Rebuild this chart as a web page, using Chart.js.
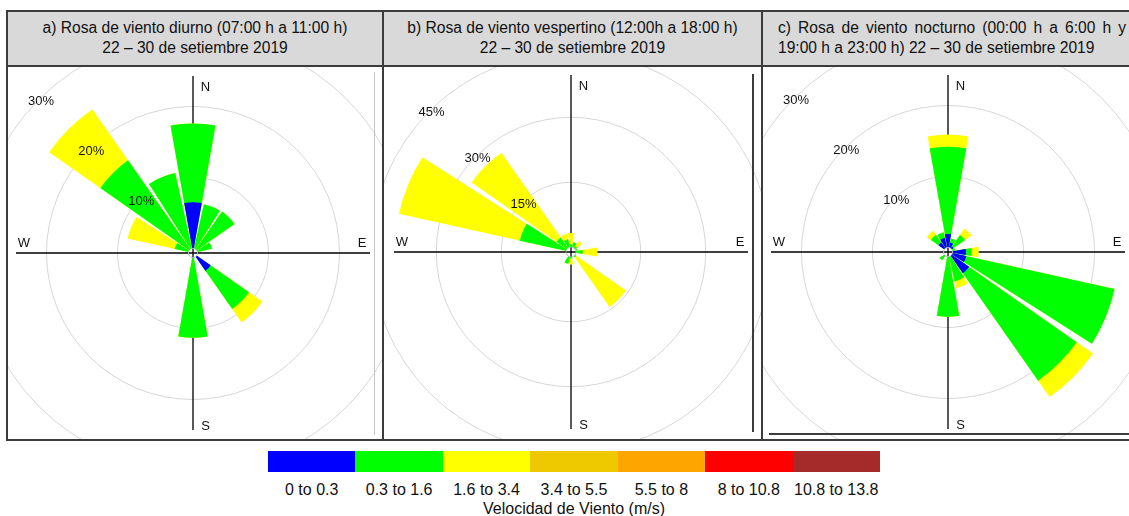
<!DOCTYPE html>
<html>
<head>
<meta charset="utf-8">
<script src="https://cdn.jsdelivr.net/npm/chart.js@4.4.0/dist/chart.umd.min.js"></script>
<style>
  body { margin: 0; width: 1129px; height: 516px; background: #fff; position: relative; overflow: hidden;
         font-family: "Liberation Sans", Arial, Helvetica, sans-serif; color: #111; }
  .line { position: absolute; background: #3c3c3c; }
  .head { position: absolute; top: 12px; height: 53px; background: #d9d9d9; font-size: 15.6px;
          line-height: 20px; box-sizing: border-box; padding-top: 6px; text-align: center; }
  .head.just { text-align: justify; text-align-last: left; padding-left: 15px; padding-right: 3px; }
  .panel { position: absolute; top: 67px; height: 372px; overflow: hidden; background: #fff; }
  .panel canvas { position: absolute; }
  #legend { position: absolute; left: 268px; top: 451px; width: 612px; }
  #legend .bar { display: flex; height: 21px; }
  #legend .bar div { flex: 1; }
  #legend .labs { display: flex; margin-top: 9px; font-size: 16px; line-height: 18px; }
  #legend .labs div { flex: 1; text-align: center; white-space: nowrap; }
  #legend .title { text-align: center; font-size: 16px; line-height: 18px; margin-top: 1px; }
</style>
</head>
<body>

<div class="head" style="left:8px;width:374px">a) Rosa de viento diurno (07:00 h a 11:00 h)<br>22 – 30 de setiembre 2019</div>
<div class="head" style="left:384px;width:377px">b) Rosa de viento vespertino (12:00h a 18:00 h)<br>22 – 30 de setiembre 2019</div>
<div class="head just" style="left:763px;width:366px">c) Rosa de viento nocturno (00:00 h a 6:00 h y 19:00 h a 23:00 h) 22 – 30 de setiembre 2019</div>

<div class="panel" style="left:8px;width:374px"><canvas id="roseA" width="600" height="600" style="left:-115px;top:-114px"></canvas></div>
<div class="panel" style="left:384px;width:377px"><canvas id="roseB" width="600" height="600" style="left:-113px;top:-115px"></canvas></div>
<div class="panel" style="left:763px;width:366px"><canvas id="roseC" width="600" height="600" style="left:-115px;top:-115px"></canvas></div>

<!-- marco -->
<div class="line" style="left:6px;top:10px;width:1123px;height:2px"></div>
<div class="line" style="left:6px;top:65px;width:1123px;height:2px"></div>
<div class="line" style="left:6px;top:439px;width:1123px;height:2px"></div>
<div class="line" style="left:6px;top:10px;width:2px;height:431px"></div>
<div class="line" style="left:382px;top:10px;width:2px;height:431px"></div>
<div class="line" style="left:761px;top:10px;width:2px;height:431px"></div>
<!-- restos de recorte de las figuras originales -->
<div class="line" style="left:374px;top:72px;width:1px;height:363px;background:#c4c4c4"></div>
<div class="line" style="left:752px;top:74px;width:2px;height:358px"></div>
<div class="line" style="left:769px;top:433px;width:360px;height:2px"></div>

<div id="legend">
  <div class="bar"></div>
  <div class="labs"></div>
  <div class="title">Velocidad de Viento (m/s)</div>
</div>

<script>
// direcciones cada 22.5 grados, empezando en el norte
const directions = ['N', 'NNE', 'NE', 'ENE', 'E', 'ESE', 'SE', 'SSE',
                    'S', 'SSW', 'SW', 'WSW', 'W', 'WNW', 'NW', 'NNW'];
const speedBins = ['0 to 0.3', '0.3 to 1.6', '1.6 to 3.4', '3.4 to 5.5', '5.5 to 8', '8 to 10.8', '10.8 to 13.8'];
const binColors = ['#0000ff', '#00ff00', '#ffff00', '#eec900', '#ffa500', '#ff0000', '#a52a2a'];

// frecuencias (%) por direccion y rango de velocidad
// a) diurno
const diurnoBlue   = [6.5, 0, 0, 0, 0, 0, 2.4, 0, 0, 0, 0, 0, 0, 0, 0, 0];
const diurnoGreen  = [11.1, 6.4, 6.5, 2.1, 0, 0, 6.6, 0, 11.3, 0, 0, 0, 0, 2.0, 15.3, 10.9];
const diurnoYellow = [0, 0, 0, 0, 0, 0, 2.3, 0, 0, 0, 0, 0, 0, 6.8, 8.8, 0];
// b) vespertino
const vespBlue   = [0, 0, 0, 0, 0, 0, 0, 0, 0, 0, 0, 0, 0, 0, 0, 0];
const vespGreen  = [0.7, 1.2, 0.6, 0.4, 1.6, 0, 0.4, 0, 0.4, 1.7, 0, 0, 0, 11.0, 3.0, 1.9];
const vespYellow = [2.6, 0, 1.4, 0, 3.4, 0, 14.0, 0, 1.4, 0, 0, 0, 0, 28.6, 23.9, 1.3];
// c) nocturno
const noctBlue   = [1.9, 0.7, 0.3, 0, 1.9, 2.0, 3.0, 0, 0, 0, 0, 0, 0, 0, 1.0, 1.4];
const noctGreen  = [12.3, 0.6, 2.0, 0.4, 0.8, 21.4, 18.5, 3.6, 8.5, 0, 0.8, 0, 0, 0, 1.3, 0.8];
const noctYellow = [1.7, 0, 1.1, 0, 1.0, 0, 2.8, 1.0, 0, 0, 0, 0, 0, 0, 0.7, 0];

// anillos de la escala radial
const ringsA = [10, 20, 30];
const ringsB = [15, 30, 45];
const ringsC = [10, 20, 30];

const WEDGE = 20;   // ancho del sector (grados)
const GAP = 2.5;    // espacio entre sectores

// ejes N-S / E-W, hueco central y etiquetas
const roseDecor = {
  id: 'roseDecor',
  beforeDatasetsDraw(chart, args, opts) {
    const s = chart.scales.r, ctx = chart.ctx;
    ctx.save();
    ctx.strokeStyle = '#000';
    ctx.lineWidth = 1.3;
    ctx.beginPath();
    ctx.moveTo(s.xCenter, s.yCenter - opts.arm);
    ctx.lineTo(s.xCenter, s.yCenter + opts.arm);
    ctx.moveTo(s.xCenter - opts.arm, s.yCenter);
    ctx.lineTo(s.xCenter + opts.arm, s.yCenter);
    ctx.stroke();
    ctx.restore();
  },
  afterDatasetsDraw(chart, args, opts) {
    const s = chart.scales.r, ctx = chart.ctx;
    const cx = s.xCenter, cy = s.yCenter;
    const hole = s.getDistanceFromCenterForValue(0);
    ctx.save();
    ctx.beginPath();
    ctx.arc(cx, cy, hole, 0, Math.PI * 2);
    ctx.fillStyle = '#fff';
    ctx.fill();
    ctx.strokeStyle = '#cfcfcf';
    ctx.lineWidth = 1;
    ctx.stroke();
    ctx.clip();
    ctx.strokeStyle = '#000';
    ctx.lineWidth = 1.3;
    ctx.beginPath();
    ctx.moveTo(cx, cy - hole); ctx.lineTo(cx, cy + hole);
    ctx.moveTo(cx - hole, cy); ctx.lineTo(cx + hole, cy);
    ctx.stroke();
    ctx.restore();

    ctx.save();
    ctx.font = '13px "Liberation Sans", Arial, sans-serif';
    ctx.fillStyle = '#111';
    ctx.textAlign = 'center';
    ctx.textBaseline = 'middle';
    ctx.fillText('N', cx + 12.5, cy - 166);
    ctx.fillText('S', cx + 12.5, cy + 173);
    ctx.fillText('E', cx + 169, cy - 10);
    ctx.fillText('W', cx - 169, cy - 10);
    opts.rings.forEach(v => {
      const d = s.getDistanceFromCenterForValue(v) - 2.5;
      ctx.fillText(v + '%', cx - d * Math.SQRT1_2, cy - d * Math.SQRT1_2);
    });
    ctx.restore();
  }
};

function makeRose(id, blue, green, yellow, rings, rMin, rMax) {
  // apilado: cada anillo se dibuja hasta el acumulado
  const cumBlue = blue.slice();
  const cumGreen = blue.map((v, i) => v + green[i]);
  const cumYellow = cumGreen.map((v, i) => v + yellow[i]);
  const withGaps = arr => arr.flatMap(v => [v, 0]);
  const sets = [cumBlue, cumGreen, cumYellow].map((arr, k) => ({
    label: speedBins[k],
    data: withGaps(arr),
    backgroundColor: binColors[k],
    borderWidth: 0,
    angle: ctx => (ctx.dataIndex % 2 ? GAP : WEDGE)
  }));
  return new Chart(document.getElementById(id), {
    type: 'polarArea',
    data: { labels: directions.flatMap(d => [d, '']), datasets: sets },
    options: {
      responsive: false,
      animation: false,
      layout: { padding: 0 },
      plugins: {
        legend: { display: false },
        tooltip: { enabled: false },
        roseDecor: { rings: rings, arm: 177 }
      },
      scales: {
        r: {
          min: rMin,
          max: rMax,
          startAngle: -WEDGE / 2,
          ticks: { display: false },
          afterBuildTicks: sc => { sc.ticks = rings.map(v => ({ value: v })); },
          grid: { color: '#d6d6d6', lineWidth: 1, circular: true },
          angleLines: { display: false },
          pointLabels: { display: false }
        }
      }
    },
    plugins: [roseDecor]
  });
}

makeRose('roseA', diurnoBlue, diurnoGreen, diurnoYellow, ringsA, -0.634, 41.62);
makeRose('roseB', vespBlue, vespGreen, vespYellow, ringsB, -1.109, 68.18);
makeRose('roseC', noctBlue, noctGreen, noctYellow, ringsC, -0.634, 41.62);

// leyenda de velocidades
const bar = document.querySelector('#legend .bar');
const labs = document.querySelector('#legend .labs');
speedBins.forEach((b, i) => {
  const box = document.createElement('div');
  box.style.background = binColors[i];
  bar.appendChild(box);
  const t = document.createElement('div');
  t.textContent = b;
  labs.appendChild(t);
});
</script>
</body>
</html>
